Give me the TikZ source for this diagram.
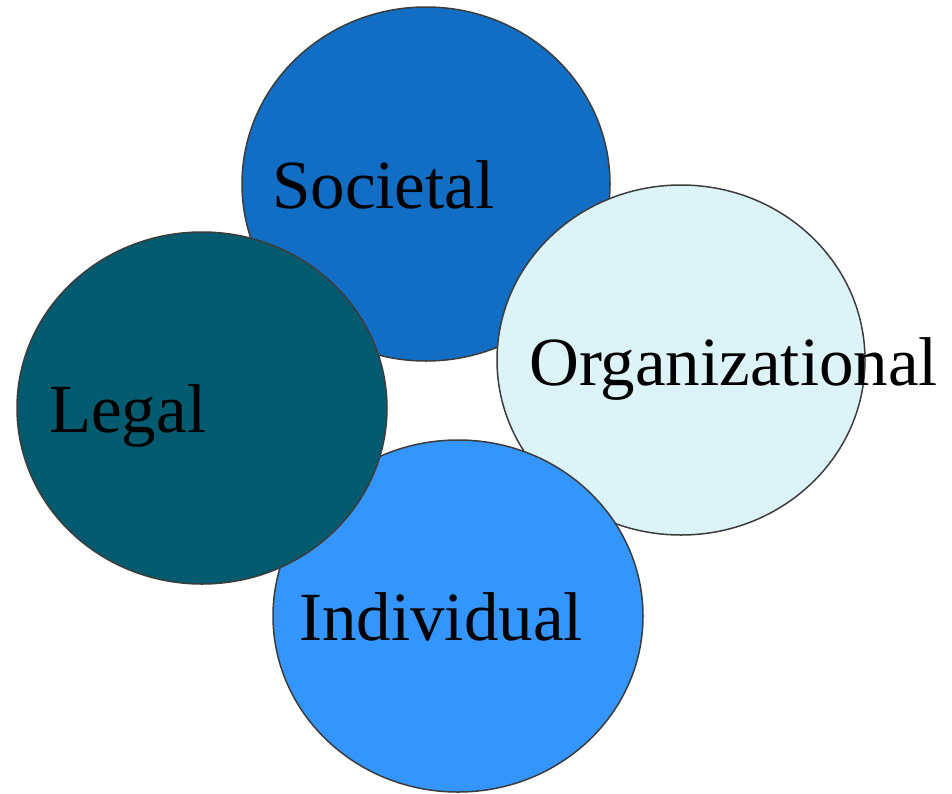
\documentclass[tikz,border=0pt]{standalone}
\usepackage{fontspec}
\setmainfont{Liberation Serif}
\usetikzlibrary{shapes.geometric}
\definecolor{societal}{RGB}{18,110,196}
\definecolor{organizational}{RGB}{220,244,248}
\definecolor{individual}{RGB}{52,150,252}
\definecolor{legal}{RGB}{4,90,110}
\definecolor{rim}{RGB}{60,60,60}
\begin{document}
\begin{tikzpicture}[x=1pt,y=-1pt,
  disc/.style={ellipse,draw=rim,line width=1.5pt,inner sep=0pt,outer sep=0pt},
  lbl/.style={anchor=base west,inner sep=0pt,font=\fontsize{69}{80}\selectfont}]
  \useasboundingbox (0,0) rectangle (952,793);
  \node[disc,fill=societal,minimum width=368pt,minimum height=354pt] (soc) at (426,184) {};
  \node[disc,fill=organizational,minimum width=368pt,minimum height=350pt] (org) at (681,360) {};
  \node[disc,fill=individual,minimum width=370pt,minimum height=352pt] (ind) at (458,616) {};
  \node[disc,fill=legal,minimum width=370pt,minimum height=352pt] (leg) at (202,408) {};
  \node[lbl] (socT) at (272,208) {Societal};
  \node[lbl] (orgT) at (529,385) {Organizational};
  \node[lbl] (legT) at (49,432) {Legal};
  \node[lbl] (indT) at (299,640) {Individual};
\end{tikzpicture}
\end{document}
